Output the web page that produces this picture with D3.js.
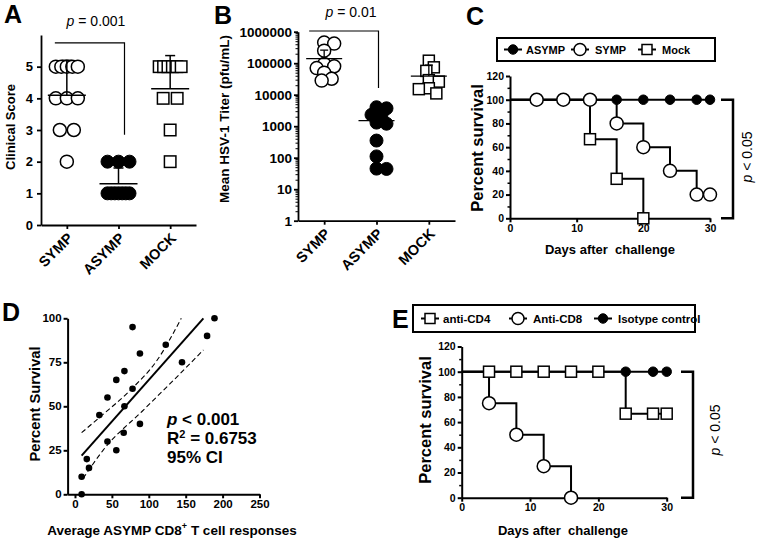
<!DOCTYPE html>
<html>
<head>
<meta charset="utf-8">
<script src="https://cdn.jsdelivr.net/npm/d3@7"></script>
<style>
  html, body { margin: 0; padding: 0; background: #fff; }
  svg { display: block; }
</style>
</head>
<body>
<script>
// ---------------- DATA ----------------
const groups = ["SYMP", "ASYMP", "MOCK"];

// Panel A: clinical scores
const scoreSYMP  = [5, 5, 5, 5, 5, 4, 4, 4, 3, 3, 2];
const scoreASYMP = [2, 2, 2, 1, 1, 1, 1, 1, 1, 1];
const scoreMOCK  = [5, 5, 5, 5, 5, 5, 4, 4, 3, 2];
const scoreMean   = [4.1, 1.3, 4.3];
const scoreErrTop = [5.2, 1.8, 5.35];
const scoreTicks  = [0, 1, 2, 3, 4, 5];

// Panel B: mean HSV-1 titer (pfu/mL)
const titerSYMP  = [450000, 420000, 250000, 95000, 80000, 70000, 50000, 32000, 28000];
const titerASYMP = [4000, 3700, 2300, 2300, 1300, 1200, 350, 110, 45, 44];
const titerMOCK  = [120000, 74000, 57000, 29000, 26000, 16000, 15000, 11000];
const titerMean   = [140000, 1500, 39000];
const titerErrTop = [260000, 2900, 87000];
const titerTicks  = [1, 10, 100, 1000, 10000, 100000, 1000000];

// Panel C: survival after challenge
const daysC_ASYMP = [0, 4, 8, 12, 16, 20, 24, 28, 30];
const survC_ASYMP = [100, 100, 100, 100, 100, 100, 100, 100, 100];
const daysC_SYMP  = [0, 4, 8, 12, 16, 20, 24, 28, 30];
const survC_SYMP  = [100, 100, 100, 100, 80, 60, 40, 20, 20];
const daysC_Mock  = [0, 12, 16, 20];
const survC_Mock  = [100, 66.7, 33.3, 0];
const survTicks   = [0, 20, 40, 60, 80, 100, 120];
const dayTicks    = [0, 10, 20, 30];

// Panel D: correlation
const cd8Resp  = [189, 179, 78, 123, 88, 145, 67, 56, 78, 44, 67, 33, 88, 66, 44, 56, 16, 19, 9, 9];
const survD    = [100, 90, 95, 85, 80, 75, 70, 65, 60, 55, 50, 45, 40, 35, 30, 25, 20, 15, 10, 0];
const fitX     = [9, 174];
const fitY     = [22, 100];
const ciUpX    = [9, 34, 77, 111, 144];
const ciUpY    = [35, 44, 60, 76, 100];
const ciLoX    = [11, 38, 93, 134, 174];
const ciLoY    = [9, 25, 48, 65, 82];
const dXTicks  = [0, 50, 100, 150, 200, 250];
const dYTicks  = [0, 25, 50, 75, 100];

// Panel E: depletion survival
const daysE_CD4 = [0, 4, 8, 12, 16, 20, 24, 28, 30];
const survE_CD4 = [100, 100, 100, 100, 100, 100, 66.7, 66.7, 66.7];
const daysE_CD8 = [0, 4, 8, 12, 16];
const survE_CD8 = [100, 75, 50, 25, 0];
const daysE_Iso = [0, 4, 8, 12, 16, 20, 24, 28, 30];
const survE_Iso = [100, 100, 100, 100, 100, 100, 100, 100, 100];

// ---------------- SETUP ----------------
const FONT = "'Liberation Sans', Arial, Helvetica, sans-serif";
const svg = d3.select("body").append("svg")
  .attr("width", 760).attr("height", 542)
  .attr("font-family", FONT);
svg.append("rect").attr("width", 760).attr("height", 542).attr("fill", "#fff");

function styleAxis(g, fs, sw) {
  g.selectAll("path.domain").attr("stroke", "#000").attr("stroke-width", sw);
  g.selectAll(".tick line").attr("stroke", "#000").attr("stroke-width", sw);
  g.selectAll("text").attr("font-size", fs).attr("font-weight", "bold")
    .attr("fill", "#000").attr("font-family", FONT);
}
function minorAxis(g, axisFn, vals, size, sw) {
  g.call(axisFn.tickValues(vals).tickSize(size).tickFormat(""));
  g.select("path.domain").remove();
  g.selectAll(".tick line").attr("stroke", "#000").attr("stroke-width", sw);
}
function panelLetter(t, x, y) {
  svg.append("text").attr("x", x).attr("y", y).text(t)
    .attr("font-size", 25).attr("font-weight", "bold").attr("fill", "#000");
}
function drawMarker(g, shape, x, y, size) {
  if (shape === "square") {
    g.append("rect").attr("x", x - size / 2).attr("y", y - size / 2)
      .attr("width", size).attr("height", size)
      .attr("fill", "#fff").attr("stroke", "#000").attr("stroke-width", 1.5);
  } else if (shape === "open") {
    g.append("circle").attr("cx", x).attr("cy", y).attr("r", size / 2)
      .attr("fill", "#fff").attr("stroke", "#000").attr("stroke-width", 1.5);
  } else {
    g.append("circle").attr("cx", x).attr("cy", y).attr("r", size / 2)
      .attr("fill", "#000").attr("stroke", "#000").attr("stroke-width", 1);
  }
}
// same-value rows laid out symmetrically
function rowOffsets(vals, maxW, maxStep) {
  const counts = d3.rollup(vals, v => v.length, d => d);
  const seen = new Map();
  return vals.map(v => {
    const k = counts.get(v);
    const i = seen.get(v) || 0; seen.set(v, i + 1);
    const step = k > 1 ? Math.min(maxStep, maxW / (k - 1)) : 0;
    return (i - (k - 1) / 2) * step;
  });
}
// simple beeswarm in pixel space
function swarm(ys, minD, step) {
  const order = d3.range(ys.length).sort((a, b) => ys[a] - ys[b]);
  const placed = [];
  const out = new Array(ys.length);
  order.forEach(i => {
    for (let k = 0; k < 80; k++) {
      const dx = k === 0 ? 0 : (k % 2 ? 1 : -1) * Math.ceil(k / 2) * step;
      if (placed.every(p => Math.hypot(p[0] - dx, p[1] - ys[i]) >= minD)) {
        placed.push([dx, ys[i]]); out[i] = dx; break;
      }
    }
  });
  return out;
}

// ---------------- PANEL A ----------------
(function () {
  const g = svg.append("g");
  const x = d3.scalePoint().domain(groups).range([41, 196]).padding(0.5);
  const y = d3.scaleLinear().domain([0, 6]).range([225, 35]);
  const ya = g.append("g").attr("transform", "translate(41,0)")
    .call(d3.axisLeft(y).tickValues(scoreTicks).tickFormat(d3.format("d")).tickSize(4).tickSizeOuter(0).tickPadding(4));
  styleAxis(ya, 13, 1.8);
  const xa = g.append("g").attr("transform", "translate(0,225)")
    .call(d3.axisBottom(x).tickSize(4).tickSizeOuter(0).tickFormat(""));
  styleAxis(xa, 12, 1.8);
  groups.forEach(c => {
    g.append("text").attr("transform", `translate(${x(c) + 7},${225 + 14}) rotate(-45)`)
      .attr("text-anchor", "end").attr("font-size", 14.5).attr("font-weight", "bold").text(c);
  });
  g.append("text").attr("transform", "translate(15,127) rotate(-90)")
    .attr("text-anchor", "middle").attr("font-size", 13).attr("font-weight", "bold").text("Clinical Score");

  const sets = [scoreSYMP, scoreASYMP, scoreMOCK];
  const shapes = ["open", "filled", "square"];
  sets.forEach((vals, gi) => {
    const offs = rowOffsets(vals, 22, 14);
    const cx = x(groups[gi]);
    vals.forEach((v, i) => drawMarker(g, shapes[gi], cx + offs[i], y(v), shapes[gi] === "square" ? 11.5 : 13));
    g.append("line").attr("x1", cx - 19).attr("x2", cx + 19)
      .attr("y1", y(scoreMean[gi])).attr("y2", y(scoreMean[gi])).attr("stroke", "#000").attr("stroke-width", 1.5);
    g.append("line").attr("x1", cx).attr("x2", cx)
      .attr("y1", y(scoreMean[gi])).attr("y2", y(scoreErrTop[gi])).attr("stroke", "#000").attr("stroke-width", 1.5);
    g.append("line").attr("x1", cx - 5).attr("x2", cx + 5)
      .attr("y1", y(scoreErrTop[gi])).attr("y2", y(scoreErrTop[gi])).attr("stroke", "#000").attr("stroke-width", 1.5);
  });
  g.append("path").attr("fill", "none").attr("stroke", "#000").attr("stroke-width", 1.2)
    .attr("d", `M${x("SYMP") - 12},${y(5.75)}H${x("ASYMP") + 6}V${y(2.85)}`);
  const t = g.append("text").attr("x", 96).attr("y", 26).attr("text-anchor", "middle").attr("font-size", 14);
  t.append("tspan").attr("font-style", "italic").text("p");
  t.append("tspan").text(" = 0.001");
  panelLetter("A", 4, 23);
})();

// ---------------- PANEL B ----------------
(function () {
  const g = svg.append("g");
  const x = d3.scalePoint().domain(groups).range([298, 455]).padding(0.5);
  const y = d3.scaleLog().domain([1, 1e6]).range([220.7, 31.7]);
  const minors = [];
  for (let d = 1; d < 1e6; d *= 10) for (let k = 2; k <= 9; k++) minors.push(k * d);
  minorAxis(g.append("g").attr("transform", "translate(298,0)"), d3.axisLeft(y), minors, 2.5, 1);
  const ya = g.append("g").attr("transform", "translate(298,0)")
    .call(d3.axisLeft(y).tickValues(titerTicks).tickFormat(d3.format("d")).tickSize(4).tickSizeOuter(0).tickPadding(2));
  styleAxis(ya, 13.5, 1.8);
  const xa = g.append("g").attr("transform", "translate(0,220.7)")
    .call(d3.axisBottom(x).tickSize(4).tickSizeOuter(0).tickFormat(""));
  styleAxis(xa, 12, 1.8);
  groups.forEach(c => {
    g.append("text").attr("transform", `translate(${x(c) + 7},${220.7 + 14}) rotate(-45)`)
      .attr("text-anchor", "end").attr("font-size", 14.5).attr("font-weight", "bold").text(c);
  });
  g.append("text").attr("transform", "translate(229,119) rotate(-90)")
    .attr("text-anchor", "middle").attr("font-size", 13.5).attr("font-weight", "bold").text("Mean HSV-1 Titer (pfu/mL)");

  const sets = [titerSYMP, titerASYMP, titerMOCK];
  const shapes = ["open", "filled", "square"];
  sets.forEach((vals, gi) => {
    const ys = vals.map(v => y(v));
    const offs = swarm(ys, 8, 2.5);
    const cx = x(groups[gi]);
    vals.forEach((v, i) => drawMarker(g, shapes[gi], cx + offs[i], ys[i], shapes[gi] === "square" ? 11 : 13));
    g.append("line").attr("x1", cx - 18).attr("x2", cx + 18)
      .attr("y1", y(titerMean[gi])).attr("y2", y(titerMean[gi])).attr("stroke", "#000").attr("stroke-width", 1.3);
    g.append("line").attr("x1", cx).attr("x2", cx)
      .attr("y1", y(titerMean[gi])).attr("y2", y(titerErrTop[gi])).attr("stroke", "#000").attr("stroke-width", 1.3);
    g.append("line").attr("x1", cx - 4).attr("x2", cx + 4)
      .attr("y1", y(titerErrTop[gi])).attr("y2", y(titerErrTop[gi])).attr("stroke", "#000").attr("stroke-width", 1.3);
  });
  g.append("path").attr("fill", "none").attr("stroke", "#000").attr("stroke-width", 1.2)
    .attr("d", `M${x("SYMP") - 15},31H${x("ASYMP") + 2}V88`);
  const t = g.append("text").attr("x", 351).attr("y", 17).attr("text-anchor", "middle").attr("font-size", 14);
  t.append("tspan").attr("font-style", "italic").text("p");
  t.append("tspan").text(" = 0.01");
  panelLetter("B", 214, 24);
})();

// ---------------- survival helper ----------------
function survivalPanel(cfg) {
  const g = svg.append("g");
  const x = d3.scaleLinear().domain([0, 30]).range(cfg.xr);
  const y = d3.scaleLinear().domain([0, 120]).range(cfg.yr);
  const minors = [10, 30, 50, 70, 90, 110];
  minorAxis(g.append("g").attr("transform", `translate(${cfg.xr[0]},0)`), d3.axisLeft(y), minors, 2.5, 1.5);
  const ya = g.append("g").attr("transform", `translate(${cfg.xr[0]},0)`)
    .call(d3.axisLeft(y).tickValues(survTicks).tickSize(4).tickSizeOuter(0).tickPadding(2));
  styleAxis(ya, 10.5, 2);
  const xa = g.append("g").attr("transform", `translate(0,${cfg.yr[0]})`)
    .call(d3.axisBottom(x).tickValues(dayTicks).tickSize(4).tickSizeOuter(0).tickPadding(2));
  styleAxis(xa, 10.5, 2);
  const line = d3.line().x(d => x(d[0])).y(d => y(d[1])).curve(d3.curveStepAfter);
  cfg.series.forEach(s => {
    const pts = s.days.map((d, i) => [d, s.surv[i]]);
    g.append("path").attr("d", line(pts)).attr("fill", "none").attr("stroke", "#000").attr("stroke-width", 2);
  });
  cfg.series.forEach(s => {
    s.days.forEach((d, i) => {
      if (d > 0) drawMarker(g, s.shape, x(d), y(s.surv[i]), s.size);
    });
  });
  g.append("text").attr("transform", `translate(${cfg.ytX},${cfg.ytY}) rotate(-90)`)
    .attr("text-anchor", "middle").attr("font-size", 16.5).attr("font-weight", "bold").text("Percent survival");
  g.append("text").attr("x", cfg.xtX).attr("y", cfg.xtY).attr("text-anchor", "middle")
    .attr("font-size", 13).attr("font-weight", "bold").attr("xml:space", "preserve").text("Days after  challenge");
  const bx = cfg.bracketX;
  g.append("path").attr("fill", "none").attr("stroke", "#000").attr("stroke-width", 2.5)
    .attr("d", `M${bx - 12},${y(100)}H${bx}V${y(0)}H${bx - 12}`);
  const t = g.append("text").attr("transform", `translate(${cfg.pX},${cfg.pY}) rotate(-90)`)
    .attr("text-anchor", "middle").attr("font-size", 14);
  t.append("tspan").attr("font-style", "italic").text("p");
  t.append("tspan").text(" < 0.05");
  const L = cfg.legend;
  g.append("rect").attr("x", L.x).attr("y", L.y).attr("width", L.w).attr("height", L.h)
    .attr("fill", "#fff").attr("stroke", "#000").attr("stroke-width", 2);
  L.items.forEach(it => {
    const cy = L.y + L.h / 2;
    g.append("line").attr("x1", it.mx - 9).attr("x2", it.mx + 9).attr("y1", cy).attr("y2", cy)
      .attr("stroke", "#000").attr("stroke-width", 2);
    drawMarker(g, it.shape, it.mx, cy, it.size);
    g.append("text").attr("x", it.tx).attr("y", cy + 4.2).attr("font-size", L.fs)
      .attr("font-weight", "bold").text(it.label);
  });
}

// ---------------- PANEL C ----------------
survivalPanel({
  xr: [510, 710], yr: [218.3, 76],
  series: [
    { days: daysC_ASYMP, surv: survC_ASYMP, shape: "filled", size: 9.5 },
    { days: daysC_Mock, surv: survC_Mock, shape: "square", size: 11 },
    { days: daysC_SYMP, surv: survC_SYMP, shape: "open", size: 13 }
  ],
  ytX: 483, ytY: 148, xtX: 610, xtY: 254,
  bracketX: 733, pX: 752, pY: 157,
  legend: {
    x: 497, y: 38, w: 218, h: 23, fs: 11,
    items: [
      { label: "ASYMP", shape: "filled", size: 9.5, mx: 513, tx: 526 },
      { label: "SYMP", shape: "open", size: 12, mx: 580, tx: 595 },
      { label: "Mock", shape: "square", size: 10, mx: 647, tx: 662 }
    ]
  }
});
panelLetter("C", 466, 25);

// ---------------- PANEL E ----------------
survivalPanel({
  xr: [461.7, 666.7], yr: [497.7, 346.5],
  series: [
    { days: daysE_Iso, surv: survE_Iso, shape: "filled", size: 9.5 },
    { days: daysE_CD8, surv: survE_CD8, shape: "open", size: 13 },
    { days: daysE_CD4, surv: survE_CD4, shape: "square", size: 11 }
  ],
  ytX: 431, ytY: 420, xtX: 563, xtY: 535,
  bracketX: 693, pX: 720, pY: 430,
  legend: {
    x: 413, y: 305, w: 282, h: 27, fs: 11.5,
    items: [
      { label: "anti-CD4", shape: "square", size: 10, mx: 430, tx: 443 },
      { label: "Anti-CD8", shape: "open", size: 12, mx: 518, tx: 533 },
      { label: "Isotype control", shape: "filled", size: 9.5, mx: 603, tx: 618 }
    ]
  }
});
panelLetter("E", 392, 328);

// ---------------- PANEL D ----------------
(function () {
  const g = svg.append("g");
  const x = d3.scaleLinear().domain([-10, 250]).range([67.6, 259.5]);
  const y = d3.scaleLinear().domain([0, 100]).range([494.3, 318.3]);
  const ya = g.append("g").attr("transform", `translate(${x(-10)},0)`)
    .call(d3.axisLeft(y).tickValues(dYTicks).tickSize(4).tickSizeOuter(0).tickPadding(2));
  styleAxis(ya, 11.5, 2);
  const xa = g.append("g").attr("transform", `translate(0,${y(0)})`)
    .call(d3.axisBottom(x).tickValues(dXTicks).tickSize(4).tickSizeOuter(0).tickPadding(2));
  styleAxis(xa, 11.5, 2);
  const ln = d3.line().x(d => x(d[0])).y(d => y(d[1]));
  const lc = d3.line().x(d => x(d[0])).y(d => y(d[1])).curve(d3.curveMonotoneX);
  g.append("path").attr("d", lc(ciUpX.map((v, i) => [v, ciUpY[i]]))).attr("fill", "none")
    .attr("stroke", "#000").attr("stroke-width", 1.1).attr("stroke-dasharray", "5,3");
  g.append("path").attr("d", lc(ciLoX.map((v, i) => [v, ciLoY[i]]))).attr("fill", "none")
    .attr("stroke", "#000").attr("stroke-width", 1.1).attr("stroke-dasharray", "5,3");
  g.append("path").attr("d", ln(fitX.map((v, i) => [v, fitY[i]]))).attr("fill", "none")
    .attr("stroke", "#000").attr("stroke-width", 2);
  cd8Resp.forEach((v, i) => {
    g.append("circle").attr("cx", x(v)).attr("cy", y(survD[i])).attr("r", 3.3).attr("fill", "#000");
  });
  g.append("text").attr("transform", "translate(40,404) rotate(-90)")
    .attr("text-anchor", "middle").attr("font-size", 14.7).attr("font-weight", "bold").text("Percent Survival");
  const xt = g.append("text").attr("x", 172).attr("y", 535).attr("text-anchor", "middle")
    .attr("font-size", 13.5).attr("font-weight", "bold");
  xt.append("tspan").text("Average ASYMP CD8");
  xt.append("tspan").attr("font-size", 9).attr("dy", -6).text("+");
  xt.append("tspan").attr("dy", 6).text(" T cell responses");
  const s1 = g.append("text").attr("x", 167).attr("y", 425).attr("font-size", 17).attr("font-weight", "bold");
  s1.append("tspan").attr("font-style", "italic").text("p");
  s1.append("tspan").text(" < 0.001");
  const s2 = g.append("text").attr("x", 167).attr("y", 444).attr("font-size", 17).attr("font-weight", "bold");
  s2.append("tspan").text("R");
  s2.append("tspan").attr("font-size", 11).attr("dy", -6).text("2");
  s2.append("tspan").attr("dy", 6).text(" = 0.6753");
  g.append("text").attr("x", 167).attr("y", 463).attr("font-size", 17).attr("font-weight", "bold").text("95% CI");
  panelLetter("D", 2, 321);
})();
</script>
</body>
</html>
